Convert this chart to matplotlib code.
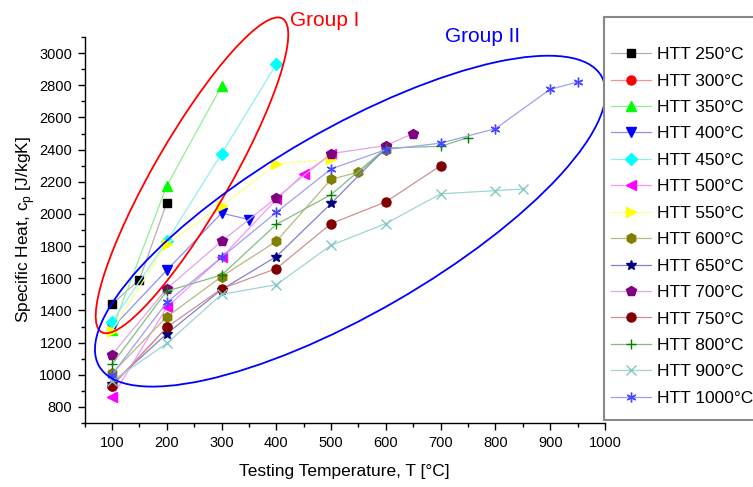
import matplotlib
matplotlib.use("Agg")
import matplotlib.pyplot as plt
from matplotlib.patches import Ellipse, Rectangle
from matplotlib.transforms import ScaledTranslation
from matplotlib.ticker import MultipleLocator

plt.rcParams['font.family'] = ['Liberation Sans', 'DejaVu Sans']

# Specific heat (J/kgK) vs testing temperature (degC) for each heat-treatment temperature
htt_labels = ['HTT 250°C', 'HTT 300°C', 'HTT 350°C', 'HTT 400°C', 'HTT 450°C',
              'HTT 500°C', 'HTT 550°C', 'HTT 600°C', 'HTT 650°C', 'HTT 700°C',
              'HTT 750°C', 'HTT 800°C', 'HTT 900°C', 'HTT 1000°C']

t_250 = [100, 150, 200]
cp_250 = [1440, 1590, 2070]
t_300 = [100, 200]
cp_300 = [930, 1295]
t_350 = [100, 200, 300]
cp_350 = [1280, 2175, 2795]
t_400 = [100, 200, 300, 350]
cp_400 = [1290, 1650, 2005, 1965]
t_450 = [100, 200, 300, 400]
cp_450 = [1330, 1830, 2375, 2930]
t_500 = [100, 200, 300, 400, 450, 500]
cp_500 = [860, 1420, 1730, 2090, 2250, 2370]
t_550 = [100, 200, 300, 400, 500]
cp_550 = [1275, 1815, 2050, 2310, 2340]
t_600 = [100, 200, 300, 400, 500, 550, 600]
cp_600 = [1010, 1360, 1610, 1830, 2215, 2260, 2400]
t_650 = [100, 200, 300, 400, 500, 600]
cp_650 = [945, 1255, 1530, 1735, 2065, 2410]
t_700 = [100, 200, 300, 400, 500, 600, 650]
cp_700 = [1125, 1535, 1830, 2100, 2375, 2425, 2500]
t_750 = [100, 200, 300, 400, 500, 600, 700]
cp_750 = [930, 1295, 1535, 1660, 1940, 2075, 2300]
t_800 = [100, 200, 300, 400, 500, 600, 700, 750]
cp_800 = [1065, 1520, 1620, 1935, 2120, 2410, 2420, 2475]
t_900 = [100, 200, 300, 400, 500, 600, 700, 800, 850]
cp_900 = [960, 1195, 1500, 1560, 1805, 1940, 2125, 2145, 2155]
t_1000 = [100, 200, 300, 400, 500, 600, 700, 800, 900, 950]
cp_1000 = [1000, 1450, 1730, 2010, 2280, 2400, 2440, 2530, 2775, 2820]

series = [(t_250, cp_250), (t_300, cp_300), (t_350, cp_350), (t_400, cp_400),
          (t_450, cp_450), (t_500, cp_500), (t_550, cp_550), (t_600, cp_600),
          (t_650, cp_650), (t_700, cp_700), (t_750, cp_750), (t_800, cp_800),
          (t_900, cp_900), (t_1000, cp_1000)]

marker_colors = ['#000000', '#FF0000', '#00FF00', '#0000FF', '#00FFFF', '#FF00FF',
                 '#FFFF00', '#808000', '#000080', '#800080', '#800000', '#008000',
                 '#80C8C8', '#4848FF']
line_colors = ['#B0B0B0', '#FF9090', '#90F090', '#9090F0', '#90F0F0', '#FF90FF',
               '#FFFF90', '#B8B880', '#8080D0', '#E0A8E0', '#D09090', '#80C080',
               '#A0D4D4', '#A0A0F0']
markers = ['s', 'o', '^', 'v', 'D', '<', '>', 'h', '*', 'p', 'o', '+', 'x', (6, 2, 0)]
msizes = [6, 6.5, 7, 7, 6, 7, 7, 7, 7.5, 7.5, 6.5, 7, 7, 7]

fig = plt.figure(figsize=(7.53, 4.87), dpi=100)
ax = fig.add_axes([0.1124, 0.1314, 0.691, 0.7926])

handles = []
for (t, cp), lab, mc, lc, mk, ms in zip(series, htt_labels, marker_colors,
                                         line_colors, markers, msizes):
    h, = ax.plot(t, cp, color=lc, lw=0.9, marker=mk, markersize=ms,
                 markerfacecolor=mc, markeredgecolor=mc, markeredgewidth=1.0,
                 label=lab, zorder=2)
    handles.append(h)

ax.set_xlim(50, 1000)
ax.set_ylim(700, 3100)
ax.xaxis.set_major_locator(MultipleLocator(100))
ax.xaxis.set_minor_locator(MultipleLocator(50))
ax.yaxis.set_major_locator(MultipleLocator(200))
ax.yaxis.set_minor_locator(MultipleLocator(100))
for s in ['top', 'right']:
    ax.spines[s].set_visible(False)
for s in ['left', 'bottom']:
    ax.spines[s].set_linewidth(1.0)
ax.tick_params(which='major', direction='out', length=5, width=1.0,
               labelsize=10.5, colors='black', pad=4)
ax.tick_params(which='minor', direction='out', length=3, width=1.0)

ax.set_xlabel('Testing Temperature, T [°C]', fontsize=12.5)
ax.set_ylabel(r'Specific Heat, c$_{\mathregular{p}}$ [J/kgK]', fontsize=12.5)
ax.xaxis.set_label_coords(0.5, -0.106)
ax.yaxis.set_label_coords(-0.092, 0.5)


def group_ring(cx, cy, w_in, h_in, ang, color):
    tr = fig.dpi_scale_trans + ScaledTranslation(cx, cy, ax.transData)
    e = Ellipse((0, 0), w_in, h_in, angle=ang, transform=tr, fill=False,
                edgecolor=color, lw=1.3, clip_on=False, zorder=5)
    ax.add_artist(e)


group_ring(246, 2240, 3.62, 0.76, 60, '#FF0000')
group_ring(535, 1955, 5.80, 1.84, 30, '#0000FF')

fig.text(290 / 753, 1 - 21 / 487, 'Group I', color='#FF0000', fontsize=15,
         ha='left', va='center')
fig.text(445 / 753, 1 - 36 / 487, 'Group II', color='#0000FF', fontsize=15,
         ha='left', va='center')

frame = Rectangle((604 / 753, 1 - 420 / 487), (770 - 604) / 753, (420 - 17) / 487,
                  transform=fig.transFigure, facecolor='white',
                  edgecolor='#888888', lw=1.5, zorder=1)
fig.add_artist(frame)

fig.legend(handles=handles, loc='upper left',
           bbox_to_anchor=(611 / 753, 1 - 47 / 487), frameon=False,
           fontsize=12.5, handlelength=2.3, handletextpad=0.35,
           labelspacing=0.65, borderpad=0, borderaxespad=0)

fig.savefig('out.png', dpi=100)
